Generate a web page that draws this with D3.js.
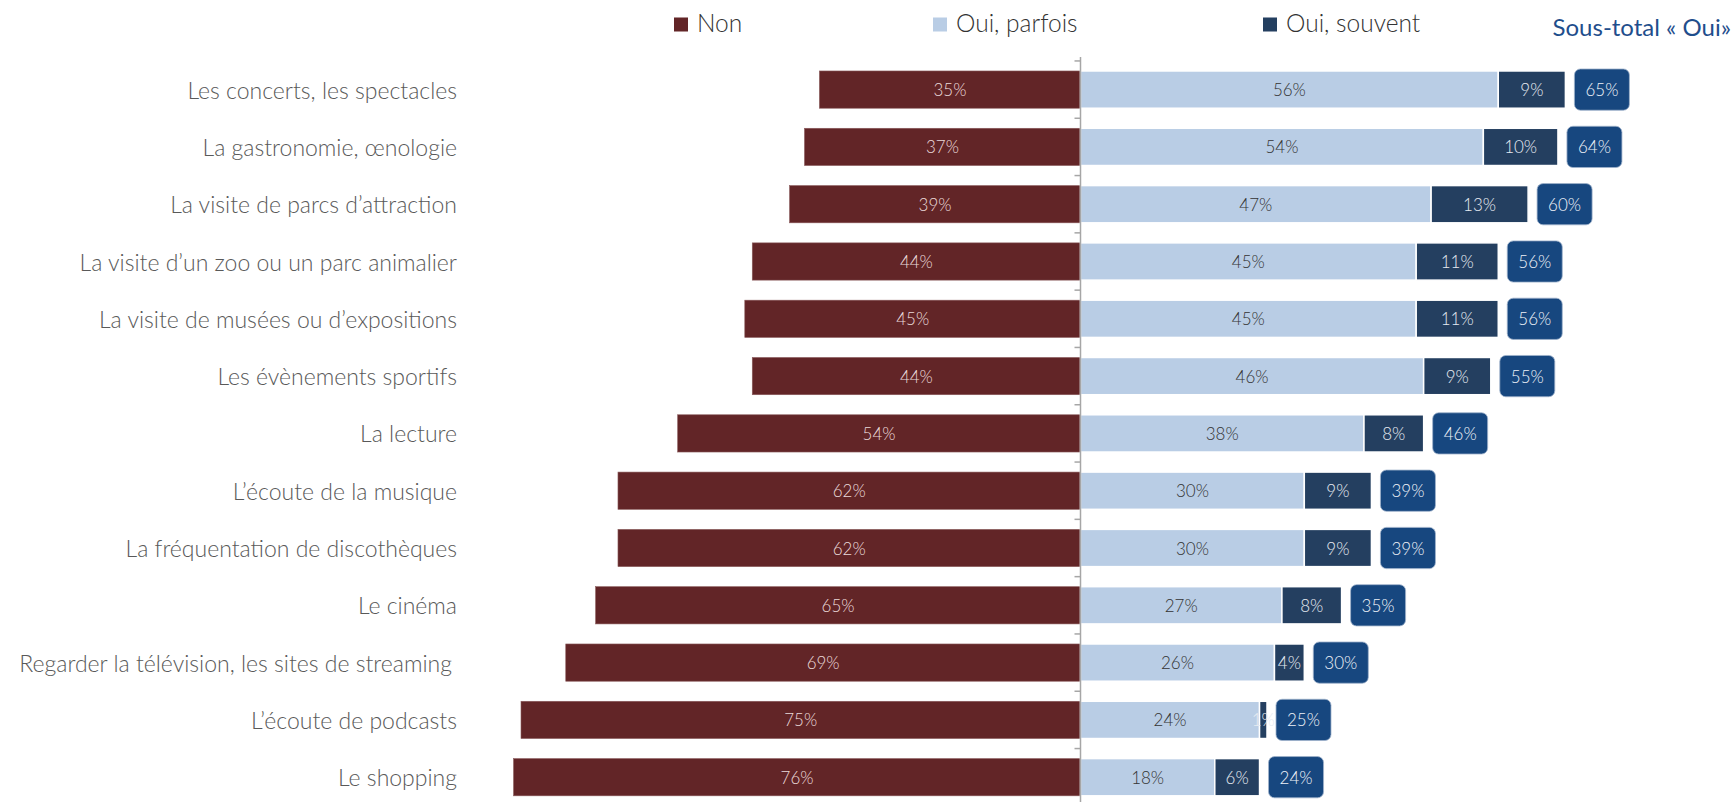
<!DOCTYPE html>
<html><head><meta charset="utf-8">
<script src="https://cdn.jsdelivr.net/npm/d3@7"></script>
<style>
html,body{margin:0;padding:0;background:#fff;}
svg text{font-family:"Lato","Open Sans",sans-serif;font-weight:300;}
</style></head>
<body><svg id="c" width="1734" height="802"></svg>
<script>
const categories = [
 "Les concerts, les spectacles",
 "La gastronomie, œnologie",
 "La visite de parcs d’attraction",
 "La visite d’un zoo ou un parc animalier",
 "La visite de musées ou d’expositions",
 "Les évènements sportifs",
 "La lecture",
 "L’écoute de la musique",
 "La fréquentation de discothèques",
 "Le cinéma",
 "Regarder la télévision, les sites de streaming",
 "L’écoute de podcasts",
 "Le shopping"
];
const non      = [35,37,39,44,45,44,54,62,62,65,69,75,76];
const parfois  = [56,54,47,45,45,46,38,30,30,27,26,24,18];
const souvent  = [ 9,10,13,11,11, 9, 8, 9, 9, 8, 4, 1, 6];
const subtotal = [65,64,60,56,56,55,46,39,39,35,30,25,24];
const legendLabels = ["Non","Oui, parfois","Oui, souvent"];
const subtotalLabel = "Sous-total « Oui»";

const colors = {non:"#622527", parfois:"#b9cde5", souvent:"#243f60", sub:"#17477f"};

const svg = d3.select("#c");
const cx = 1080.5, pxPer = 7.46;
const x = d3.scaleLinear().domain([-80, 90]).range([cx - 80*pxPer, cx + 90*pxPer]);
const y = d3.scaleBand().domain(categories).range([60.95, 60.95 + 13*57.3]).paddingInner(0.35).paddingOuter(0.175);
const bw = y.bandwidth();

const rows = categories.map((c,i)=>({c, non:non[i], p:parfois[i], s:souvent[i], t:subtotal[i]}));

// category labels
svg.append("g").selectAll("text").data(rows).join("text")
  .attr("x", d => d.c.startsWith("Regarder") ? 452 : 457).attr("y", d=>y(d.c)+bw/2)
  .attr("text-anchor","end").attr("dominant-baseline","central")
  .attr("fill","#595959").style("font-size","23px").text(d=>d.c);

// bars
const g = svg.append("g");
g.selectAll("rect.non").data(rows).join("rect").attr("class","non")
  .attr("x", d=>x(-d.non)).attr("width", d=>x(0)-x(-d.non))
  .attr("y", d=>y(d.c)).attr("height", bw).attr("fill", colors.non)
  .attr("stroke","#8a5b5c").attr("stroke-width",0.6);
g.selectAll("rect.p").data(rows).join("rect").attr("class","p")
  .attr("x", x(0)).attr("width", d=>x(d.p)-x(0))
  .attr("y", d=>y(d.c)).attr("height", bw).attr("fill", colors.parfois)
  .attr("stroke","#fff").attr("stroke-width",1.5);
g.selectAll("rect.s").data(rows).join("rect").attr("class","s")
  .attr("x", d=>x(d.p)).attr("width", d=>x(d.p+d.s)-x(d.p))
  .attr("y", d=>y(d.c)).attr("height", bw).attr("fill", colors.souvent)
  .attr("stroke","#fff").attr("stroke-width",1.5);

// labels in bars
g.selectAll("text.non").data(rows).join("text").attr("class","non")
  .attr("x", d=>(x(-d.non)+x(0))/2).attr("y", d=>y(d.c)+bw/2)
  .attr("text-anchor","middle").attr("dominant-baseline","central")
  .attr("fill","#eadada").style("font-size","17px").text(d=>d.non+"%");
g.selectAll("text.p").data(rows).join("text").attr("class","p")
  .attr("x", d=>(x(0)+x(d.p))/2).attr("y", d=>y(d.c)+bw/2)
  .attr("text-anchor","middle").attr("dominant-baseline","central")
  .attr("fill","#333").style("font-size","17px").text(d=>d.p+"%");
g.selectAll("text.s").data(rows).join("text").attr("class","s")
  .attr("x", d=>(x(d.p)+x(d.p+d.s))/2).attr("y", d=>y(d.c)+bw/2)
  .attr("text-anchor","middle").attr("dominant-baseline","central")
  .attr("fill","#e6ebf2").style("font-size","17px").text(d=>d.s+"%");

// subtotal boxes
const boxW = 55, boxH = bw + 4;
g.selectAll("rect.t").data(rows).join("rect").attr("class","t")
  .attr("x", d=>x(d.p+d.s)+9).attr("width", boxW)
  .attr("y", d=>y(d.c)-2).attr("height", boxH).attr("rx",6)
  .attr("fill", colors.sub).attr("stroke","#9fb3cc").attr("stroke-width",0.8);
g.selectAll("text.t").data(rows).join("text").attr("class","t")
  .attr("x", d=>x(d.p+d.s)+9+boxW/2).attr("y", d=>y(d.c)+bw/2)
  .attr("text-anchor","middle").attr("dominant-baseline","central")
  .attr("fill","#eef2f8").style("font-size","17px").text(d=>d.t+"%");

// axis
const ax = svg.append("g");
ax.append("line").attr("x1",cx).attr("x2",cx).attr("y1",57).attr("y2",802)
  .attr("stroke","#a6a6a6").attr("stroke-width",1.5);
const bounds = d3.range(categories.length+1).map(k=>60.95 + k*y.step());
ax.selectAll("line.t").data(bounds).join("line").attr("class","t")
  .attr("x1",cx-6).attr("x2",cx).attr("y1",d=>d).attr("y2",d=>d)
  .attr("stroke","#a6a6a6").attr("stroke-width",1.5);

// legend
const leg = svg.append("g");
const legX = [674, 933, 1263];
const legC = [colors.non, colors.parfois, colors.souvent];
legendLabels.forEach((l,i)=>{
  leg.append("rect").attr("x",legX[i]).attr("y",17.5).attr("width",14).attr("height",14).attr("fill",legC[i]);
  leg.append("text").attr("x",legX[i]+23).attr("y",31.5)
    .attr("fill","#333").style("font-size","24.5px").text(l);
});
leg.append("text").attr("x",1731).attr("y",35.5).attr("text-anchor","end")
  .attr("fill","#1f4e8c").style("font-size","24px").style("font-weight","400").text(subtotalLabel);
</script></body></html>
